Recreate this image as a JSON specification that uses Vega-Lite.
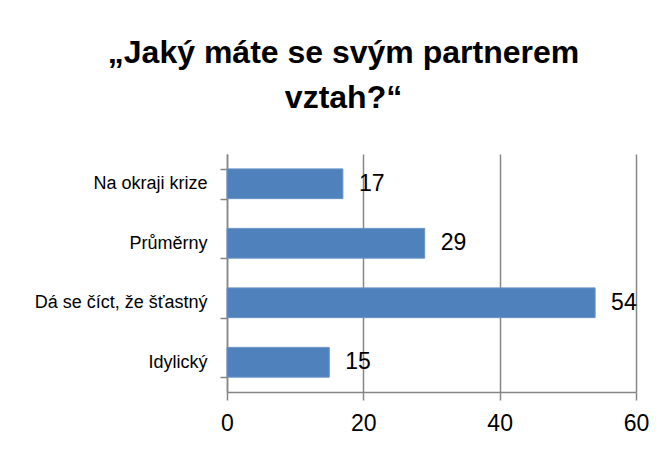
{
  "$schema": "https://vega.github.io/schema/vega-lite/v6.json",
  "width": 409,
  "height": 238,
  "autosize": {"type": "none"},
  "padding": {"left": 227, "top": 154, "right": 29, "bottom": 60},
  "background": "white",
  "title": {
    "text": ["„Jaký máte se svým partnerem", "vztah?“"],
    "font": "Liberation Sans",
    "fontSize": 32,
    "fontWeight": "bold",
    "color": "black",
    "anchor": "middle",
    "frame": "group",
    "dx": -88,
    "offset": 30,
    "lineHeight": 45
  },
  "data": {
    "values": [
      {"kategorie": "Na okraji krize", "hodnota": 17},
      {"kategorie": "Průměrny", "hodnota": 29},
      {"kategorie": "Dá se číct, že šťastný", "hodnota": 54},
      {"kategorie": "Idylický", "hodnota": 15}
    ]
  },
  "config": {
    "view": {"stroke": null},
    "font": "Liberation Sans"
  },
  "encoding": {
    "y": {
      "field": "kategorie",
      "type": "nominal",
      "sort": null,
      "scale": {"paddingInner": 0.5, "paddingOuter": 0.25},
      "axis": {
        "title": null,
        "labelFontSize": 18,
        "labelLimit": 300,
        "labelColor": "black",
        "labelPadding": 13,
        "tickSize": 7,
        "tickBand": "extent",
        "tickColor": "#868686",
        "domainColor": "#868686",
        "tickWidth": 1.5,
        "domainWidth": 1.5,
        "grid": false
      }
    },
    "x": {
      "field": "hodnota",
      "type": "quantitative",
      "scale": {"domain": [0, 60], "nice": false},
      "axis": {
        "title": null,
        "values": [0, 20, 40, 60],
        "labelFontSize": 23,
        "labelColor": "black",
        "labelPadding": 12,
        "labelFlush": false,
        "tickSize": 8,
        "tickColor": "#868686",
        "domainColor": "#868686",
        "tickWidth": 1.5,
        "domainWidth": 1.5,
        "grid": true,
        "gridColor": "#868686",
        "gridWidth": 1.5
      }
    }
  },
  "layer": [
    {"mark": {"type": "bar", "color": "#4F81BD", "stroke": "#6a93c8", "strokeWidth": 1}},
    {
      "mark": {"type": "text", "align": "left", "baseline": "middle", "dx": 16, "fontSize": 23, "color": "black"},
      "encoding": {"text": {"field": "hodnota", "type": "quantitative"}}
    }
  ]
}
